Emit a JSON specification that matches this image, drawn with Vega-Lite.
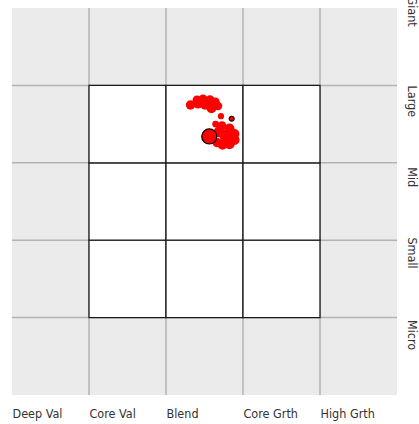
{
  "$schema": "https://vega.github.io/schema/vega-lite/v6.json",
  "width": 385,
  "height": 387,
  "autosize": {"type": "none"},
  "padding": {"left": 12, "top": 8, "right": 22, "bottom": 29},
  "background": "white",
  "view": {"fill": "#ebebeb", "stroke": null},
  "config": {"font": "DejaVu Sans Condensed, Roboto, sans-serif"},
  "datasets": {
    "vlines": [{"v": 1}, {"v": 2}, {"v": 3}, {"v": 4}],
    "cells": [
      {"col": 1, "row": 1}, {"col": 2, "row": 1}, {"col": 3, "row": 1},
      {"col": 1, "row": 2}, {"col": 2, "row": 2}, {"col": 3, "row": 2},
      {"col": 1, "row": 3}, {"col": 2, "row": 3}, {"col": 3, "row": 3}
    ],
    "holdings": [
      {"style": 2.318, "size": 3.747, "weight": 5.5, "hl": 0},
      {"style": 2.403, "size": 3.811, "weight": 5.0, "hl": 0},
      {"style": 2.481, "size": 3.824, "weight": 5.0, "hl": 0},
      {"style": 2.571, "size": 3.811, "weight": 5.5, "hl": 0},
      {"style": 2.640, "size": 3.786, "weight": 5.0, "hl": 0},
      {"style": 2.675, "size": 3.734, "weight": 4.5, "hl": 0},
      {"style": 2.590, "size": 3.705, "weight": 6.0, "hl": 0},
      {"style": 2.506, "size": 3.747, "weight": 5.5, "hl": 0},
      {"style": 2.416, "size": 3.760, "weight": 5.0, "hl": 0},
      {"style": 2.714, "size": 3.602, "weight": 2.4, "hl": 0},
      {"style": 2.645, "size": 3.500, "weight": 3.0, "hl": 0},
      {"style": 2.727, "size": 3.480, "weight": 5.0, "hl": 0},
      {"style": 2.825, "size": 3.445, "weight": 6.0, "hl": 0},
      {"style": 2.885, "size": 3.372, "weight": 7.0, "hl": 0},
      {"style": 2.890, "size": 3.295, "weight": 6.5, "hl": 0},
      {"style": 2.825, "size": 3.240, "weight": 6.5, "hl": 0},
      {"style": 2.735, "size": 3.235, "weight": 6.5, "hl": 0},
      {"style": 2.665, "size": 3.260, "weight": 5.5, "hl": 0},
      {"style": 2.780, "size": 3.350, "weight": 11.0, "hl": 0},
      {"style": 2.690, "size": 3.400, "weight": 7.5, "hl": 0},
      {"style": 2.562, "size": 3.340, "weight": 14.2, "hl": 1},
      {"style": 2.853, "size": 3.570, "weight": 1.5, "hl": 1}
    ]
  },
  "layer": [
    {
      "data": {"name": "vlines"},
      "mark": {"type": "rule", "color": "#b3b3b3", "strokeWidth": 1.5},
      "encoding": {
        "x": {"field": "v", "type": "quantitative", "scale": {"domain": [0, 5], "nice": false, "zero": false},
          "axis": {"values": [0, 1, 2, 3, 4], "orient": "bottom", "domain": false, "ticks": false, "grid": false, "title": null,
            "labelAlign": "left", "labelBaseline": "top", "labelPadding": 12, "labelFontSize": 12.5, "labelColor": "#333333",
            "labelExpr": "['Deep Val','Core Val','Blend','Core Grth','High Grth'][datum.value]"}}
      }
    },
    {
      "data": {"name": "vlines"},
      "mark": {"type": "rule", "color": "#b3b3b3", "strokeWidth": 1.5},
      "encoding": {
        "y": {"field": "v", "type": "quantitative", "scale": {"domain": [0, 5], "nice": false, "zero": false},
          "axis": {"values": [4.96, 3.8, 2.82, 1.84, 0.78], "orient": "right", "domain": false, "ticks": false, "grid": false, "title": null,
            "labelAngle": 90, "labelAlign": "center", "labelBaseline": "bottom", "labelPadding": 7, "labelFontSize": 12.5, "labelColor": "#333333",
            "labelBound": false, "labelOverlap": false,
            "labelExpr": "datum.value > 4.5 ? 'Giant' : datum.value > 3.5 ? 'Large' : datum.value > 2.5 ? 'Mid' : datum.value > 1.5 ? 'Small' : 'Micro'"}}
      }
    },
    {
      "data": {"name": "cells"},
      "transform": [
        {"calculate": "datum.col + 1", "as": "col2"},
        {"calculate": "datum.row + 1", "as": "row2"}
      ],
      "mark": {"type": "rect", "fill": "white", "stroke": "#1a1a1a", "strokeWidth": 1.3},
      "encoding": {
        "x": {"field": "col", "type": "quantitative"},
        "x2": {"field": "col2"},
        "y": {"field": "row", "type": "quantitative"},
        "y2": {"field": "row2"}
      }
    },
    {
      "data": {"name": "holdings"},
      "transform": [{"filter": "datum.hl == 0"}],
      "mark": {"type": "circle", "color": "#ff0000", "opacity": 1},
      "encoding": {
        "x": {"field": "style", "type": "quantitative"},
        "y": {"field": "size", "type": "quantitative"},
        "size": {"field": "weight", "type": "quantitative", "scale": {"domain": [0, 25], "range": [0, 400], "zero": true}, "legend": null}
      }
    },
    {
      "data": {"name": "holdings"},
      "transform": [{"filter": "datum.hl == 1"}],
      "mark": {"type": "circle", "fill": "#ff0000", "stroke": "#000000", "strokeWidth": 1.2, "opacity": 1},
      "encoding": {
        "x": {"field": "style", "type": "quantitative"},
        "y": {"field": "size", "type": "quantitative"},
        "size": {"field": "weight", "type": "quantitative", "scale": {"domain": [0, 25], "range": [0, 400], "zero": true}, "legend": null}
      }
    }
  ]
}
